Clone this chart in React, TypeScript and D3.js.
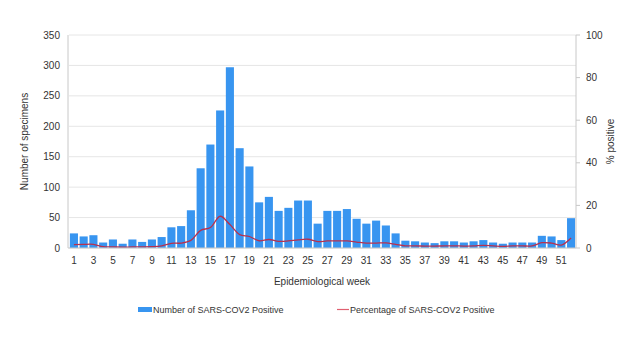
import React from "react";
import * as d3 from "d3";

const weeks: number[] = Array.from({ length: 52 }, (_, i) => i + 1);
const positives: number[] = [
  24, 19, 21, 9, 14, 7, 14, 10, 14, 18,
  34, 36, 62, 131, 170, 226, 297, 164, 134, 75,
  84, 61, 66, 78, 78, 40, 61, 61, 64, 48,
  40, 45, 37, 24, 12, 11, 9, 8, 11, 11,
  9, 11, 13, 9, 7, 9, 9, 9, 20, 19,
  13, 49,
];
const percentPositive: number[] = [
  1.6, 1.7, 1.7, 0.6, 0.5, 0.4, 0.5, 0.5, 0.6, 1.0,
  2.2, 2.3, 3.6, 8.3, 9.6, 14.9, 11.0, 6.3, 5.4, 3.4,
  4.0, 3.1, 3.3, 3.8, 4.1, 3.0, 3.3, 3.3, 3.3, 2.8,
  2.3, 2.3, 2.4, 1.7, 1.0, 1.0, 0.9, 0.9, 1.0, 1.0,
  0.9, 1.0, 1.2, 1.0, 0.8, 1.0, 1.0, 1.0, 2.5, 2.3,
  1.4, 4.7,
];
const leftTicks: number[] = [0, 50, 100, 150, 200, 250, 300, 350];
const rightTicks: number[] = [0, 20, 40, 60, 80, 100];
const xTickLabels: number[] = weeks.filter((w) => w % 2 === 1);

const W = 631;
const H = 355;
const left = 69;
const right = 576;
const top = 35;
const bottom = 248;
const FONT = "'Liberation Sans', Arial, sans-serif";
const BAR = "#3895f0";
const LINE = "#b8304e";

export default function App() {
  const x = d3.scaleBand<number>().domain(weeks).range([left, right]).paddingInner(0.17).paddingOuter(0.09);
  const yL = d3.scaleLinear().domain([0, 350]).range([bottom, top]);
  const yR = d3.scaleLinear().domain([0, 100]).range([bottom, top]);
  const line = d3
    .line<number>()
    .x((_, i) => (x(weeks[i]) as number) + x.bandwidth() / 2)
    .y((d) => yR(d))
    .curve(d3.curveCatmullRom.alpha(0.5));

  return (
    <svg
      width={W}
      height={H}
      style={{ position: "absolute", left: 0, top: 0, background: "#fff" }}
      fontFamily={FONT}
    >
      {leftTicks.map((t) => (
        <line key={"g" + t} x1={left} x2={right} y1={yL(t)} y2={yL(t)} stroke="#e6e6e6" strokeWidth={1} />
      ))}
      {positives.map((v, i) => (
        <rect
          key={"b" + i}
          x={x(weeks[i])}
          y={yL(v)}
          width={x.bandwidth()}
          height={bottom - yL(v)}
          fill={BAR}
        />
      ))}
      <path d={line(percentPositive) || ""} fill="none" stroke={LINE} strokeWidth={1.3} />
      <line x1={left - 1} x2={left - 1} y1={top} y2={bottom} stroke="#c8c8c8" />
      <line x1={right} x2={right} y1={top} y2={bottom} stroke="#c8c8c8" />
      <line x1={left - 1} x2={right} y1={bottom} y2={bottom} stroke="#c8c8c8" />
      {leftTicks.map((t) => (
        <text key={"lt" + t} x={60} y={yL(t) + 3.5} textAnchor="end" fontSize={10} fill="#333">
          {t}
        </text>
      ))}
      {rightTicks.map((t) => (
        <g key={"rt" + t}>
          <line x1={right} x2={right + 4} y1={yR(t)} y2={yR(t)} stroke="#c8c8c8" />
          <text x={586} y={yR(t) + 3.5} textAnchor="start" fontSize={10} fill="#333">
            {t}
          </text>
        </g>
      ))}
      {xTickLabels.map((w) => (
        <text
          key={"xt" + w}
          x={(x(w) as number) + x.bandwidth() / 2}
          y={264}
          textAnchor="middle"
          fontSize={10}
          fill="#333"
        >
          {w}
        </text>
      ))}
      <text x={322} y={285} textAnchor="middle" fontSize={10} fill="#333">
        Epidemiological week
      </text>
      <text
        transform={`translate(28, ${(top + bottom) / 2}) rotate(-90)`}
        textAnchor="middle"
        fontSize={10}
        fill="#333"
      >
        Number of specimens
      </text>
      <text
        transform={`translate(614, ${(top + bottom) / 2}) rotate(-90)`}
        textAnchor="middle"
        fontSize={10}
        fill="#333"
      >
        % positive
      </text>
      <rect x={138} y={307} width={14} height={5} fill={BAR} />
      <text x={153} y={312.5} fontSize={9} fill="#333">
        Number of SARS-COV2 Positive
      </text>
      <line x1={337} x2={349} y1={309.5} y2={309.5} stroke="#e06070" strokeWidth={1.2} />
      <text x={350} y={312.5} fontSize={9} fill="#333">
        Percentage of SARS-COV2 Positive
      </text>
    </svg>
  );
}
